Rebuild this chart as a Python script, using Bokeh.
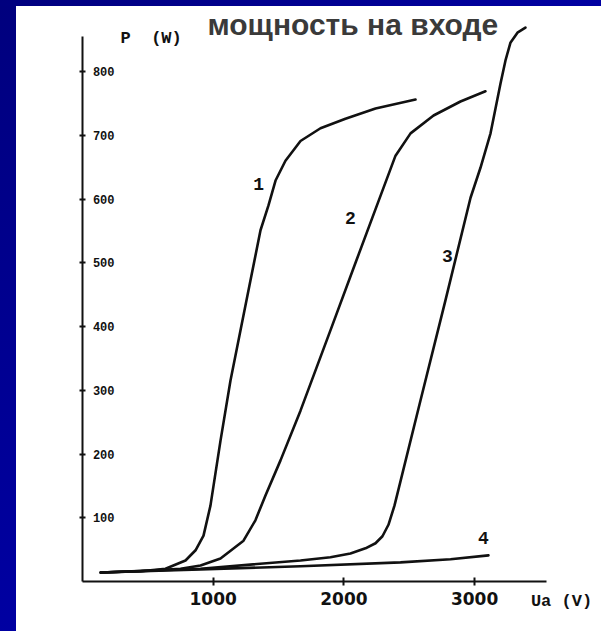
from bokeh.plotting import figure
from bokeh.models import Range1d, FixedTicker, Div
from bokeh.layouts import row, column
from bokeh.core.properties import value
from bokeh.embed import file_html
from bokeh.resources import INLINE

# ---- data ----
# curve 1
u1 = [140, 444, 635, 788, 865, 926, 979, 1056, 1132, 1209, 1285, 1362, 1423, 1477, 1553, 1668, 1821, 2012, 2242, 2548]
p1 = [14, 16, 20, 33, 49, 72, 119, 221, 315, 394, 472, 551, 590, 629, 660, 691, 711, 726, 742, 756]
# curve 2
u2 = [140, 520, 750, 903, 1056, 1232, 1323, 1400, 1515, 1668, 1897, 2089, 2280, 2395, 2510, 2686, 2892, 3083]
p2 = [14, 17, 20, 25, 36, 64, 96, 135, 190, 268, 394, 500, 605, 668, 703, 731, 753, 769]
# curve 3
u3 = [140, 903, 1668, 1897, 2050, 2165, 2242, 2295, 2341, 2387, 2586, 2777, 2969, 3045, 3122, 3198, 3236, 3274, 3328, 3389]
p3 = [14, 20, 33, 38, 44, 52, 60, 71, 89, 119, 284, 441, 602, 649, 703, 781, 817, 845, 861, 869]
# curve 4
u4 = [140, 903, 1668, 2433, 2816, 3106]
p4 = [14, 19, 24, 30, 35, 41]

curve_names = ["1", "2", "3", "4"]
name_u = [1347, 2050, 2792, 3068]
name_p = [624, 570, 511, 69]

x_ticks = [1000, 2000, 3000]
y_ticks = [100, 200, 300, 400, 500, 600, 700, 800]

title_text = "мощность на входе"
y_title = "P\u00a0\u00a0(W)"
x_title = "Ua (V)"

# ---- figure ----
p = figure(width=585, height=625, output_backend="svg", toolbar_location=None,
           x_range=Range1d(0, 3665), y_range=Range1d(0, 902),
           min_border_left=66, min_border_right=40, min_border_top=0, min_border_bottom=50)
p.outline_line_color = None
p.background_fill_color = "white"
p.border_fill_color = "white"
p.grid.visible = False

ink = "#111111"
for u, pw in [(u1, p1), (u2, p2), (u3, p3), (u4, p4)]:
    p.line(u, pw, line_color=ink, line_width=2.6, line_join="round", line_cap="round")

p.text(x=name_u, y=name_p, text=curve_names, text_font=value("Liberation Mono"),
       text_font_style="bold", text_font_size="18px", text_color=ink,
       text_align="center", text_baseline="middle")

p.text(x=[956], y=[873], text=[title_text], text_font=value("Liberation Sans"),
       text_font_style="bold", text_font_size="30px", text_color="#3a3a3a",
       text_align="left", text_baseline="alphabetic")

p.text(x=[291], y=[852], text=[y_title], text_font=value("Liberation Mono"),
       text_font_style="bold", text_font_size="17px", text_color=ink,
       text_align="left", text_baseline="alphabetic")

# axes
xa = p.xaxis[0]
xa.ticker = FixedTicker(ticks=x_ticks)
xa.bounds = (0, 3550)
xa.axis_line_width = 2
xa.axis_line_color = ink
xa.major_tick_in = 4
xa.major_tick_out = 4
xa.major_tick_line_width = 2
xa.major_tick_line_color = ink
xa.minor_tick_line_color = None
xa.major_label_text_font = "DejaVu Sans"
xa.major_label_text_font_style = "bold"
xa.major_label_text_font_size = "17px"
xa.major_label_text_color = ink
xa.major_label_standoff = 6
xa.axis_label = x_title
xa.axis_label_text_font = "Liberation Mono"
xa.axis_label_text_font_style = "bold"
xa.axis_label_text_font_size = "17px"
xa.axis_label_text_color = ink
xa.axis_label_standoff = -16
if "axis_label_align" in xa.properties():
    xa.axis_label_align = "end"

ya = p.yaxis[0]
ya.ticker = FixedTicker(ticks=y_ticks)
ya.bounds = (0, 855)
ya.axis_line_width = 2
ya.axis_line_color = ink
ya.major_tick_in = 3
ya.major_tick_out = 3
ya.major_tick_line_width = 2
ya.major_tick_line_color = ink
ya.minor_tick_line_color = None
ya.major_label_text_font = "Liberation Mono"
ya.major_label_text_font_style = "bold"
ya.major_label_text_font_size = "12px"
ya.major_label_text_color = ink
ya.major_label_standoff = -35

blue = "linear-gradient(160deg, #00007e, #0000a2)"
top_strip = Div(width=601, height=6, margin=0, styles={"background": blue})
left_strip = Div(width=16, height=625, margin=0, styles={"background": blue})

layout = column(top_strip, row(left_strip, p, spacing=0), spacing=0)

open("out.html", "w").write(file_html(layout, INLINE))
